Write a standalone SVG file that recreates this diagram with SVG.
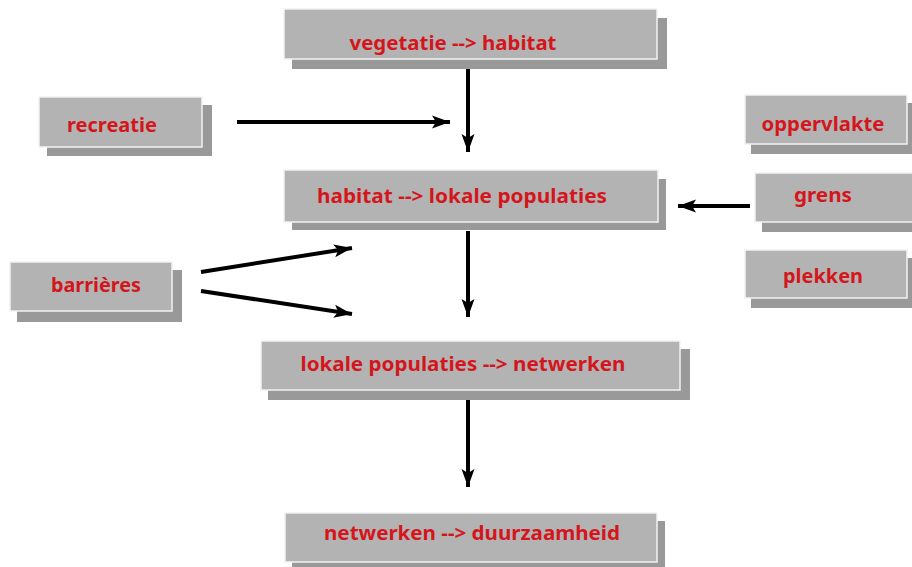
<svg xmlns="http://www.w3.org/2000/svg" width="912" height="567" viewBox="0 0 912 567">
<defs>
<style>
.box{fill:#b3b3b3;stroke:#f2f2f2;stroke-width:1.5}
.sh{fill:#999999}
.t{font-family:"Noto Sans","Liberation Sans",sans-serif;font-weight:bold;font-size:19px;fill:#d4161c;text-anchor:middle}
.c{stroke:#000;stroke-width:4;fill:none;marker-end:url(#ah)}
</style>
<marker id="ah" markerUnits="userSpaceOnUse" markerWidth="20" markerHeight="14" refX="18" refY="7" orient="auto">
<path d="M0,0.5 L18,7 L0,13.5 L4,7 Z" fill="#000"/>
</marker>
</defs>
<rect width="912" height="567" fill="#fff"/>
<g id="connectors">
<line class="c" x1="468" y1="69" x2="468" y2="152"/>
<line class="c" x1="237" y1="122" x2="450" y2="122"/>
<line class="c" x1="468" y1="231" x2="468" y2="317"/>
<line class="c" x1="750" y1="206" x2="678" y2="206"/>
<line class="c" x1="201" y1="272" x2="352" y2="248"/>
<line class="c" x1="201" y1="291" x2="352" y2="314"/>
<line class="c" x1="468" y1="400" x2="468" y2="487"/>
</g>
<g id="n-vegetatie">
<rect class="sh" x="292" y="18" width="375" height="51"/>
<rect class="box" x="284" y="9" width="373" height="50"/>
<text class="t" x="453" y="50" textLength="207" lengthAdjust="spacingAndGlyphs">vegetatie --&gt; habitat</text>
</g>
<g id="n-recreatie">
<rect class="sh" x="47" y="105" width="165" height="51"/>
<rect class="box" x="39" y="97" width="163" height="50"/>
<text class="t" x="112" y="132" textLength="90" lengthAdjust="spacingAndGlyphs">recreatie</text>
</g>
<g id="n-habitat">
<rect class="sh" x="292" y="179" width="374" height="51"/>
<rect class="box" x="284" y="170" width="374" height="52"/>
<text class="t" x="462" y="203" textLength="290" lengthAdjust="spacingAndGlyphs">habitat --&gt; lokale populaties</text>
</g>
<g id="n-oppervlakte">
<rect class="sh" x="751" y="103" width="165" height="51"/>
<rect class="box" x="745" y="95" width="162" height="49"/>
<text class="t" x="823" y="131" textLength="123" lengthAdjust="spacingAndGlyphs">oppervlakte</text>
</g>
<g id="n-grens">
<rect class="sh" x="762" y="181" width="160" height="51"/>
<rect class="box" x="755" y="173" width="160" height="49"/>
<text class="t" x="823" y="202" textLength="58" lengthAdjust="spacingAndGlyphs">grens</text>
</g>
<g id="n-plekken">
<rect class="sh" x="751" y="258" width="165" height="50"/>
<rect class="box" x="745" y="250" width="162" height="48"/>
<text class="t" x="823" y="283" textLength="80" lengthAdjust="spacingAndGlyphs">plekken</text>
</g>
<g id="n-barrieres">
<rect class="sh" x="17" y="270" width="165" height="52"/>
<rect class="box" x="10" y="262" width="162" height="49"/>
<text class="t" x="96" y="292" textLength="90" lengthAdjust="spacingAndGlyphs">barrières</text>
</g>
<g id="n-lokale">
<rect class="sh" x="268" y="349" width="422" height="51"/>
<rect class="box" x="261" y="341" width="419" height="49"/>
<text class="t" x="463" y="371" textLength="325" lengthAdjust="spacingAndGlyphs">lokale populaties --&gt; netwerken</text>
</g>
<g id="n-netwerken">
<rect class="sh" x="292" y="521" width="373" height="51"/>
<rect class="box" x="285" y="513" width="372" height="49"/>
<text class="t" x="472" y="540" textLength="296" lengthAdjust="spacingAndGlyphs">netwerken --&gt; duurzaamheid</text>
</g>
</svg>
